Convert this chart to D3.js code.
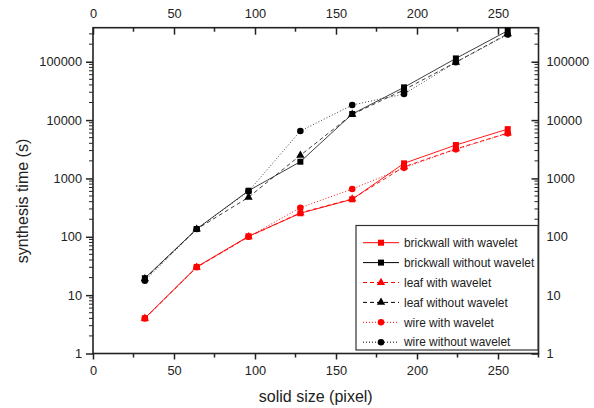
<!DOCTYPE html>
<html>
<head>
<meta charset="utf-8">
<script src="https://cdn.jsdelivr.net/npm/d3@7/dist/d3.min.js"></script>
<style>
  html, body { margin: 0; padding: 0; background: #fff; }
  svg { display: block; font-family: "Liberation Sans", Arial, sans-serif; }
</style>
</head>
<body>
<svg id="chart" width="594" height="408"></svg>
<script>
// ---- data ----
const sizes = [32, 64, 96, 128, 160, 192, 224, 256];
const brickwallWith    = [4, 30.5, 102, 253, 439, 1815, 3740, 7000];
const brickwallWithout = [19.5, 136, 616, 1935, 12700, 36400, 114000, 340000];
const leafWith         = [4, 30, 100, 258, 445, 1580, 3200, 6000];
const leafWithout      = [19, 135, 475, 2490, 12500, 33000, 98000, 300000];
const wireWith         = [4, 30, 100, 315, 659, 1520, 3150, 5930];
const wireWithout      = [17.7, 136, 600, 6500, 18100, 28000, 98000, 292000];
const xTicks = [0, 50, 100, 150, 200, 250];
const yTicks = [1, 10, 100, 1000, 10000, 100000];
const seriesNames = ["brickwall with wavelet", "brickwall without wavelet", "leaf with wavelet",
                     "leaf without wavelet", "wire with wavelet", "wire without wavelet"];

const series = [
  { name: seriesNames[0], values: brickwallWith,    color: "#ff0000", dash: null,  marker: "square" },
  { name: seriesNames[1], values: brickwallWithout, color: "#000000", dash: null,  marker: "square" },
  { name: seriesNames[2], values: leafWith,         color: "#ff0000", dash: "4,3", marker: "triangle" },
  { name: seriesNames[3], values: leafWithout,      color: "#000000", dash: "4,3", marker: "triangle" },
  { name: seriesNames[4], values: wireWith,         color: "#ff0000", dash: "1,2", marker: "circle" },
  { name: seriesNames[5], values: wireWithout,      color: "#000000", dash: "1,2", marker: "circle" }
];

// ---- layout ----
const L = 93, R = 538.5, T = 27.7, B = 353.5;
const svg = d3.select("#chart");
const x = d3.scaleLinear().domain([0, 275]).range([L, R]);
const y = d3.scaleLog().domain([1, 383000]).range([B, T]);

const axisColor = "#222";
const tickFont = "12.8px";

// minor ticks for log
const yMinor = [];
for (let d = 0; d <= 5; d++) {
  for (let m = 2; m <= 9; m++) {
    const v = m * Math.pow(10, d);
    if (v <= 383000) yMinor.push(v);
  }
}
const xMinor = [25, 75, 125, 175, 225, 275].filter(v => v <= 275);

function styleAxis(g) {
  g.select(".domain").remove();
  g.selectAll("line").attr("stroke", axisColor).attr("stroke-width", 1.5);
  g.selectAll("text").attr("fill", "#222").style("font-size", tickFont);
}

// bottom axis (outward)
const gb = svg.append("g").attr("transform", `translate(0,${B})`);
gb.call(d3.axisBottom(x).tickValues(xTicks).tickFormat(d3.format("d")).tickSize(6).tickPadding(6));
styleAxis(gb);
gb.append("g").selectAll("line").data(xMinor).join("line")
  .attr("x1", d => x(d)).attr("x2", d => x(d)).attr("y1", 0).attr("y2", 4)
  .attr("stroke", axisColor).attr("stroke-width", 1.5);

// top axis (inward ticks, labels above)
const gt = svg.append("g").attr("transform", `translate(0,${T})`);
gt.call(d3.axisTop(x).tickValues(xTicks).tickFormat(d3.format("d")).tickSize(-7).tickPadding(10));
styleAxis(gt);
gt.append("g").selectAll("line").data(xMinor).join("line")
  .attr("x1", d => x(d)).attr("x2", d => x(d)).attr("y1", 0).attr("y2", 4)
  .attr("stroke", axisColor).attr("stroke-width", 1.5);

// left axis (outward)
const gl = svg.append("g").attr("transform", `translate(${L},0)`);
gl.call(d3.axisLeft(y).tickValues(yTicks).tickFormat(d3.format("d")).tickSize(7).tickPadding(4));
styleAxis(gl);
gl.append("g").selectAll("line").data(yMinor).join("line")
  .attr("x1", -4).attr("x2", 0).attr("y1", d => y(d)).attr("y2", d => y(d))
  .attr("stroke", axisColor).attr("stroke-width", 1);

// right axis (inward ticks, labels outside)
const gr = svg.append("g").attr("transform", `translate(${R},0)`);
gr.call(d3.axisRight(y).tickValues(yTicks).tickFormat(d3.format("d")).tickSize(-7).tickPadding(8));
styleAxis(gr);
gr.append("g").selectAll("line").data(yMinor).join("line")
  .attr("x1", -4).attr("x2", 0).attr("y1", d => y(d)).attr("y2", d => y(d))
  .attr("stroke", axisColor).attr("stroke-width", 1);

// frame
svg.append("rect").attr("x", L).attr("y", T).attr("width", R - L).attr("height", B - T)
  .attr("fill", "none").attr("stroke", axisColor).attr("stroke-width", 1.6);

// axis titles
svg.append("text").attr("x", (L + R) / 2).attr("y", 402).attr("text-anchor", "middle")
  .style("font-size", "16px").attr("fill", "#222").text("solid size (pixel)");
svg.append("text").attr("transform", "translate(28,201) rotate(-90)").attr("text-anchor", "middle")
  .style("font-size", "16px").attr("fill", "#222").text("synthesis time (s)");

// markers
function drawMarker(g, type, cx, cy, color) {
  if (type === "square") {
    g.append("rect").attr("x", cx - 3).attr("y", cy - 3).attr("width", 6).attr("height", 6).attr("fill", color);
  } else if (type === "circle") {
    g.append("circle").attr("cx", cx).attr("cy", cy).attr("r", 3.3).attr("fill", color);
  } else {
    g.append("path").attr("d", d3.symbol().type(d3.symbolTriangle).size(30)())
      .attr("transform", `translate(${cx},${cy})`).attr("fill", color);
  }
}

const line = d3.line().x(d => x(d[0])).y(d => y(d[1]));
const plot = svg.append("g");
series.forEach(s => {
  const pts = sizes.map((v, i) => [v, s.values[i]]);
  plot.append("path").datum(pts).attr("d", line).attr("fill", "none")
    .attr("stroke", s.color).attr("stroke-width", 1).attr("stroke-opacity", s.color === "#000000" ? 0.75 : 0.9)
    .attr("stroke-dasharray", s.dash);
});
series.forEach(s => {
  const g = plot.append("g");
  sizes.forEach((v, i) => drawMarker(g, s.marker, x(v), y(s.values[i]), s.color));
});

// legend
const lg = svg.append("g");
lg.append("rect").attr("x", 356).attr("y", 225.5).attr("width", 182).attr("height", 124.5)
  .attr("fill", "#fff").attr("stroke", "#333").attr("stroke-width", 1.2);
series.forEach((s, i) => {
  const yy = 242.7 + i * 19.9;
  lg.append("line").attr("x1", 363).attr("x2", 399).attr("y1", yy).attr("y2", yy)
    .attr("stroke", s.color).attr("stroke-width", 1).attr("stroke-dasharray", s.dash);
  drawMarker(lg, s.marker, 381, yy, s.color);
  lg.append("text").attr("x", 404).attr("y", yy + 4.2).style("font-size", "11.9px")
    .attr("fill", "#222").text(s.name);
});
</script>
</body>
</html>
